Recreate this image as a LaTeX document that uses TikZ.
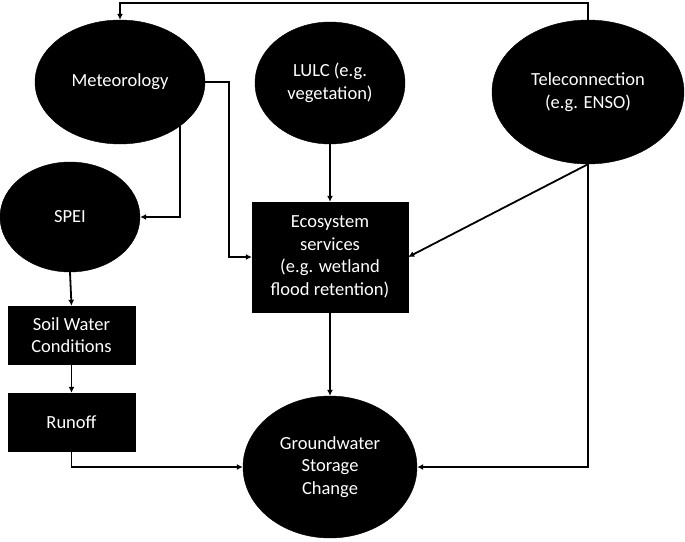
\documentclass[tikz,border=0pt]{standalone}
\usepackage{fontspec}
\setmainfont{Carlito}
\usetikzlibrary{shapes.geometric,arrows.meta}
\begin{document}
\begin{tikzpicture}[x=1pt,y=-1pt,
  base/.style={fill=black,draw=black,text=white,inner sep=0pt,align=center,
    font=\fontsize{18.5}{22.5}\selectfont},
  ell/.style={base,ellipse},
  boxn/.style={base,rectangle},
  arr/.style={line width=1.8pt,-{Latex[length=6pt,width=6pt]}}]
\useasboundingbox (0,0) rectangle (685,541);
\node[ell,minimum width=170pt,minimum height=124pt] (met) at (120,82) {Meteorology};
\node[ell,minimum width=150pt,minimum height=122pt] (lulc) at (330,83) {LULC (e.g.\\vegetation)};
\node[ell,minimum width=192pt,minimum height=144pt] (tele) at (588,92) {Teleconnection\\(e.g. ENSO)};
\node[ell,minimum width=140pt,minimum height=110pt] (spei) at (70,217) {SPEI};
\node[boxn,minimum width=156pt,minimum height=110pt] (eco) at (330,257) {Ecosystem\\services\\(e.g. wetland\\flood retention)};
\node[boxn,minimum width=127pt,minimum height=58pt] (soil) at (71.5,335) {Soil Water\\Conditions};
\node[boxn,minimum width=127pt,minimum height=58pt] (run) at (71.5,422) {Runoff};
\node[ell,minimum width=174pt,minimum height=142pt] (gw) at (330,467) {Groundwater\\Storage\\Change};
\draw[arr] (tele.north) -- ++(0,-17) -| (met.north);
\draw[arr] (met.east) -- ++(24,0) |- (eco.west);
\draw[arr] (met.-36) |- (spei.east);
\draw[arr] (lulc.south) -- (eco.north);
\draw[arr] (tele.south) -- (eco.east);
\draw[arr] (tele.south) |- (gw.east);
\draw[arr] (eco.south) -- (gw.north);
\draw[arr] (spei.south) -- (soil.north);
\draw[arr] (soil.south) -- (run.north);
\draw[arr] (run.south) |- (gw.west);
\end{tikzpicture}
\end{document}
